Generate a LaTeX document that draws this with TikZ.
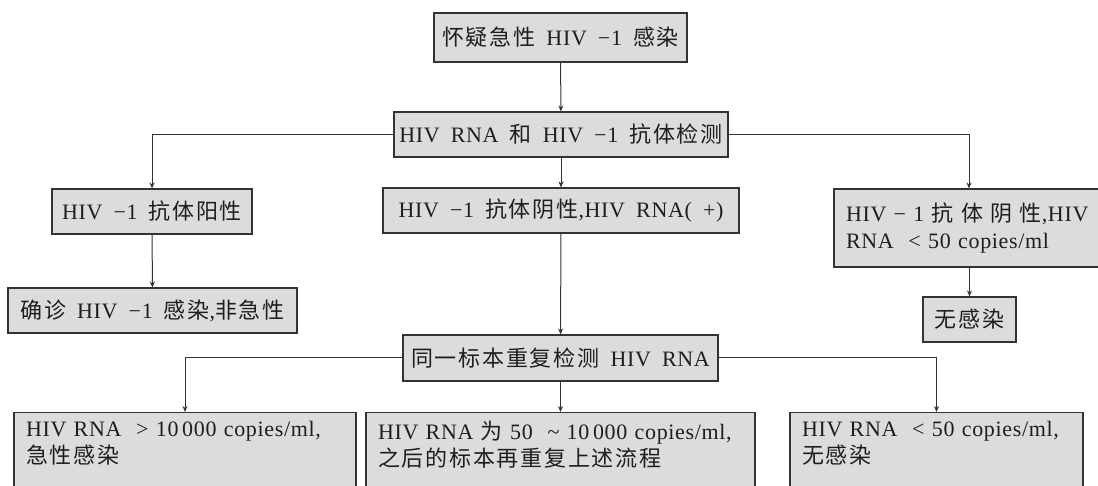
\documentclass[tikz,border=0pt]{standalone}
\usepackage{fontspec}
\setmainfont{Liberation Serif}
\newfontfamily\latfont{Liberation Serif}[LetterSpace=3, WordSpace=1.8]
\newfontfamily\zhfont{Noto Sans CJK SC}[LetterSpace=8]
\newcommand{\zh}[1]{{\zhfont #1}}
\usetikzlibrary{arrows.meta,positioning}
\definecolor{ink}{HTML}{1E1E1E}
\definecolor{rule}{HTML}{333333}
\definecolor{boxgray}{HTML}{DCDCDC}
\tikzset{
  flowbox/.style={draw=rule, fill=boxgray, line width=1.1pt, text=ink,
    inner xsep=0pt, inner ysep=0pt, font=\latfont\fontsize{22}{27}\selectfont},
  textbox/.style={flowbox, align=left, inner xsep=12pt},
  link/.style={draw=rule, line width=1pt, -{Stealth[length=6pt,width=5pt]}}
}

\begin{document}
\begin{tikzpicture}[x=1pt, y=-1pt]
    \fill[white] (0,0) rectangle (1098,486);
    \useasboundingbox (0,0) rectangle (1098,486);
    % first two steps
    \node[flowbox, minimum width=253pt, minimum height=49pt] (suspect) at (560.5,37.5)
      {\zh{怀疑急性} HIV −1 \zh{感染}};
    \node[flowbox, minimum width=334pt, minimum height=45pt] (assay) at (561,134.5)
      {HIV RNA \zh{和} HIV −1 \zh{抗体检测}};
    % three outcomes of the assay
    \node[flowbox, minimum width=200pt, minimum height=45pt] (abpos) at (152,211.5)
      {HIV −1 \zh{抗体阳性}};
    \node[flowbox, minimum width=356pt, minimum height=45pt] (abneg) at (561,210.5)
      {HIV −1 \zh{抗体阴性},HIV RNA( +)};
    \node[textbox, text width=246pt, minimum height=78pt] (allneg) at (969,228)
      {\makebox[246pt][s]{HIV − 1 \zh{抗 体 阴 性},HIV}\\ RNA \ < 50 copies/ml};
    \node[flowbox, minimum width=289pt, minimum height=45pt] (confirm) at (152.5,310.5)
      {\zh{确诊} HIV −1 \zh{感染},\zh{非急性}};
    \node[flowbox, minimum width=93pt, minimum height=45pt] (noinf) at (969.5,319.5)
      {\zh{无感染}};
    % repeat on the same sample
    \node[flowbox, minimum width=315pt, minimum height=46pt] (retest) at (560.5,358)
      {\zh{同一标本重复检测} HIV RNA};
    \node[textbox, text width=318pt, anchor=north, inner ysep=9pt] (acute) at (185,412)
      {HIV RNA \ > 10\,000 copies/ml,\\ \zh{急性感染}\rule[-40pt]{0pt}{40pt}};
    \node[textbox, text width=365pt, anchor=north, inner ysep=9pt] (repeatflow) at (560.5,412)
      {HIV RNA \zh{为} 50 \ \textasciitilde\ 10\,000 copies/ml,\\ \zh{之后的标本再重复上述流程}\rule[-40pt]{0pt}{40pt}};
    \node[textbox, text width=269pt, anchor=north, inner ysep=9pt] (cleared) at (936.5,412)
      {HIV RNA \ < 50 copies/ml,\\ \zh{无感染}\rule[-40pt]{0pt}{40pt}};
    % connectors
    \draw[link] (suspect) -- (assay);
    \draw[link] (assay.west) -| (abpos);
    \draw[link] (assay) -- (abneg);
    \draw[link] (assay.east) -| (allneg);
    \draw[link] (abpos) -- (confirm);
    \draw[link] (abneg) -- (retest);
    \draw[link] (noinf |- allneg.south) -- (noinf);
    \draw[link] (retest.west) -| (acute);
    \draw[link] (retest) -- (repeatflow);
    \draw[link] (retest.east) -| (cleared);
  \end{tikzpicture}
\end{document}
